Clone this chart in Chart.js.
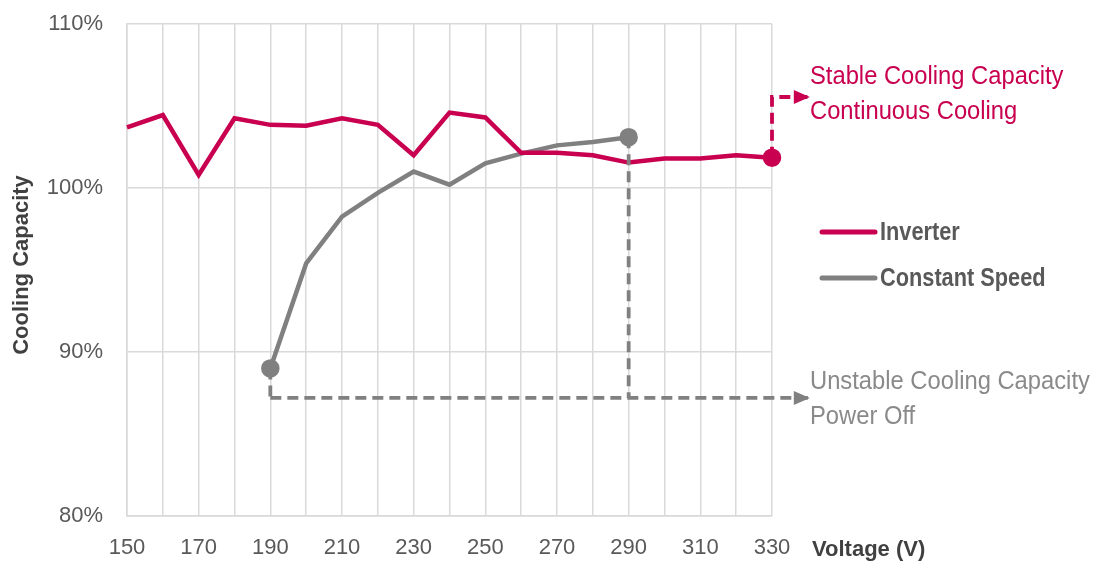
<!DOCTYPE html>
<html>
<head>
<meta charset="utf-8">
<script src="https://cdn.jsdelivr.net/npm/chart.js@4.4.0/dist/chart.umd.min.js"></script>
<style>
  html, body { margin: 0; padding: 0; background: #fff; }
</style>
</head>
<body>
<canvas id="coolingChart" width="1095" height="565"></canvas>
<script>
const voltages = [150, 160, 170, 180, 190, 200, 210, 220, 230, 240, 250, 260, 270, 280, 290, 300, 310, 320, 330];
const inverter = [103.7, 104.45, 100.8, 104.25, 103.85, 103.8, 104.25, 103.85, 102.0, 104.6, 104.3, 102.15, 102.15, 102.0, 101.55, 101.8, 101.8, 102.0, 101.85];
const constantSpeed = [null, null, null, null, 89.0, 95.4, 98.25, 99.7, 101.0, 100.2, 101.5, 102.1, 102.6, 102.8, 103.1, null, null, null, null];
const yTicks = [80, 90, 100, 110];
const xLabelStep = 20;

// annotation paths in data units [voltage, %]
const stablePath = [[330, 101.85], [330, 105.55], [340, 105.55]];
const unstableDrops = [[[190, 89.0], [190, 87.2]], [[290, 103.1], [290, 87.2]]];
const unstableLine = [[190, 87.2], [340, 87.2]];

const PINK = '#c8004f';
const GRAY = '#808080';
const FONT = '"Liberation Sans", Arial, sans-serif';

const endPoint = (data, both) => (ctx) => {
  const i = ctx.dataIndex;
  if (data[i] == null) return 0;
  const first = data.findIndex(v => v != null);
  let last = data.length - 1;
  while (data[last] == null) last--;
  return (i === last || (both && i === first)) ? 7 : 0;
};

// narrow-looking text: squeeze horizontally
function narrowText(ctx, text, x, y, sx) {
  ctx.save();
  ctx.translate(x, y);
  ctx.scale(sx, 1);
  ctx.fillText(text, 0, 0);
  ctx.restore();
}

const annotations = {
  id: 'annotations',
  afterDatasetsDraw(chart) {
    const { ctx, scales: { x, y } } = chart;
    const px = p => [x.getPixelForValue(p[0]), y.getPixelForValue(p[1])];

    function path(points, color) {
      ctx.save();
      ctx.strokeStyle = color;
      ctx.lineWidth = 3.8;
      ctx.setLineDash([11, 6]);
      ctx.beginPath();
      points.forEach((p, i) => {
        const [a, b] = px(p);
        if (i === 0) ctx.moveTo(a, b); else ctx.lineTo(a, b);
      });
      ctx.stroke();
      ctx.restore();
    }
    function arrow(p, color) {
      const [a, b] = px(p);
      ctx.save();
      ctx.fillStyle = color;
      ctx.beginPath();
      ctx.moveTo(a + 2, b);
      ctx.lineTo(a - 14, b - 7);
      ctx.lineTo(a - 14, b + 7);
      ctx.closePath();
      ctx.fill();
      ctx.restore();
    }

    unstableDrops.forEach(d => path(d, GRAY));
    path(unstableLine, GRAY);
    arrow(unstableLine[1], GRAY);
    path(stablePath, PINK);
    arrow(stablePath[2], PINK);
  },
  afterDraw(chart) {
    const { ctx } = chart;
    ctx.save();
    ctx.textAlign = 'left';
    ctx.textBaseline = 'alphabetic';

    // notes
    ctx.font = '25px ' + FONT;
    ctx.fillStyle = PINK;
    narrowText(ctx, 'Stable Cooling Capacity', 810, 84, 0.95);
    narrowText(ctx, 'Continuous Cooling', 810, 119, 0.95);
    ctx.fillStyle = '#8a8a8a';
    narrowText(ctx, 'Unstable Cooling Capacity', 810, 389, 0.95);
    narrowText(ctx, 'Power Off', 810, 424, 0.95);

    // legend
    ctx.lineWidth = 5;
    ctx.lineCap = 'round';
    [[PINK, 'Inverter', 232], [GRAY, 'Constant Speed', 278]].forEach(([c, t, yy]) => {
      ctx.strokeStyle = c;
      ctx.beginPath();
      ctx.moveTo(822, yy);
      ctx.lineTo(875, yy);
      ctx.stroke();
      ctx.fillStyle = '#595959';
      ctx.font = 'bold 25px ' + FONT;
      ctx.textBaseline = 'middle';
      narrowText(ctx, t, 880, yy + 1, 0.87);
    });

    // axis titles
    ctx.fillStyle = '#404040';
    ctx.font = 'bold 22px ' + FONT;
    ctx.textBaseline = 'middle';
    ctx.fillText('Voltage (V)', 812, 550);
    ctx.translate(22, 265);
    ctx.rotate(-Math.PI / 2);
    ctx.textAlign = 'center';
    ctx.fillText('Cooling Capacity', 0, 0);
    ctx.restore();
  }
};

new Chart(document.getElementById('coolingChart'), {
  type: 'line',
  data: {
    datasets: [
      {
        label: 'Inverter',
        data: voltages.map((v, i) => ({ x: v, y: inverter[i] })),
        borderColor: PINK,
        backgroundColor: PINK,
        borderWidth: 4.5,
        pointRadius: endPoint(inverter, false),
        pointHoverRadius: 0,
        tension: 0,
        clip: false
      },
      {
        label: 'Constant Speed',
        data: voltages.map((v, i) => ({ x: v, y: constantSpeed[i] })),
        borderColor: GRAY,
        backgroundColor: GRAY,
        borderWidth: 4.5,
        pointRadius: endPoint(constantSpeed, true),
        pointHoverRadius: 0,
        tension: 0,
        clip: false
      }
    ]
  },
  options: {
    responsive: false,
    animation: false,
    layout: { padding: { top: 24, right: 323, left: 0, bottom: 0 } },
    plugins: {
      legend: { display: false },
      tooltip: { enabled: false }
    },
    scales: {
      x: {
        type: 'linear',
        min: voltages[0],
        max: voltages[voltages.length - 1],
        afterBuildTicks: s => { s.ticks = voltages.map(v => ({ value: v })); },
        afterFit: s => { s.height = 49; s.paddingLeft = 0; s.paddingRight = 0; },
        grid: { color: '#d9d9d9', lineWidth: 1.5, drawTicks: false },
        border: { color: '#d9d9d9', width: 1.5 },
        ticks: {
          padding: 19,
          color: '#595959',
          font: { family: FONT, size: 22 },
          maxRotation: 0,
          autoSkip: false,
          callback: v => ((v - voltages[0]) % xLabelStep === 0 ? String(v) : '')
        }
      },
      y: {
        min: yTicks[0],
        max: yTicks[yTicks.length - 1],
        afterBuildTicks: s => { s.ticks = yTicks.map(v => ({ value: v })); },
        afterFit: s => { s.width = 127; s.paddingTop = 0; s.paddingBottom = 0; },
        grid: { color: '#d9d9d9', lineWidth: 1.5, drawTicks: false },
        border: { color: '#d9d9d9', width: 1.5 },
        ticks: {
          padding: 24,
          color: '#595959',
          font: { family: FONT, size: 22 },
          callback: v => v + '%'
        }
      }
    }
  },
  plugins: [annotations]
});
</script>
</body>
</html>
